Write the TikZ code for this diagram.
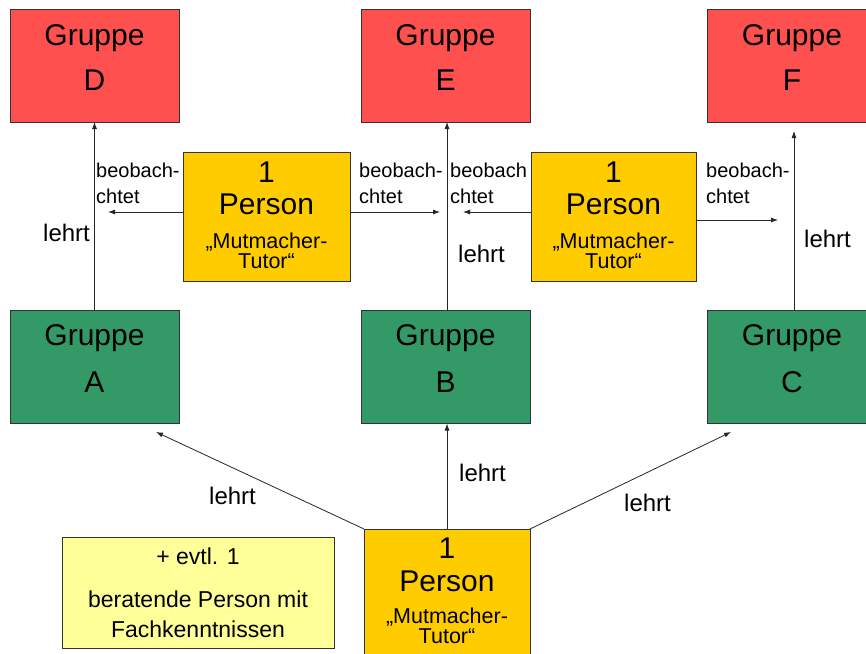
\documentclass[tikz,border=0pt]{standalone}
\usepackage{fontspec}
\setmainfont{Liberation Sans}
\usetikzlibrary{arrows.meta}
\definecolor{gred}{RGB}{255,80,80}
\definecolor{ggreen}{RGB}{51,153,102}
\definecolor{gyel}{RGB}{255,204,0}
\definecolor{glight}{RGB}{255,255,153}
\begin{document}
\begin{tikzpicture}[x=1pt,y=-1pt,
  box/.style={draw=black!80, line width=0.9pt, inner sep=0pt, outer sep=0pt},
  redbox/.style={box, fill=gred, minimum width=169pt, minimum height=113pt},
  greenbox/.style={box, fill=ggreen, minimum width=169pt, minimum height=113pt},
  tutorbox/.style={box, fill=gyel, minimum height=129pt},
  notebox/.style={box, fill=glight},
  big/.style={font=\fontsize{30}{30}\selectfont, anchor=base, inner sep=0pt},
  mid/.style={font=\fontsize{21.5}{21.5}\selectfont, anchor=base, inner sep=0pt},
  note/.style={font=\fontsize{23}{23}\selectfont, anchor=base, inner sep=0pt},
  lbl/.style={font=\fontsize{24}{24}\selectfont, anchor=base west, inner sep=0pt},
  obs/.style={font=\fontsize{20}{20}\selectfont, anchor=base west, inner sep=0pt},
  arr/.style={-{Latex[length=7pt,width=5pt]}, line width=0.8pt, black!85}
]
\clip (0,0) rectangle (866,653);
\fill[white] (0,0) rectangle (866,653);

% top row
\node[redbox] (D) at (94.5,65.5) {};
\node[redbox] (E) at (445.5,65.5) {};
\node[redbox] (F) at (791.5,65.5) {};
\node[big] (Dt1) at (94.5,45) {Gruppe};
\node[big] (Dt2) at (94.5,90) {D};
\node[big] (Et1) at (445.5,45) {Gruppe};
\node[big] (Et2) at (445.5,90) {E};
\node[big] (Ft1) at (792,45) {Gruppe};
\node[big] (Ft2) at (792,90) {F};

% middle row
\node[greenbox] (A) at (94.5,367) {};
\node[greenbox] (B) at (445.5,367) {};
\node[greenbox] (C) at (791.5,367) {};
\node[big] (At1) at (94.5,345) {Gruppe};
\node[big] (At2) at (94.5,392) {A};
\node[big] (Bt1) at (445.5,345) {Gruppe};
\node[big] (Bt2) at (445.5,392) {B};
\node[big] (Ct1) at (792,345) {Gruppe};
\node[big] (Ct2) at (792,392) {C};

% tutors
\node[tutorbox, minimum width=167pt] (P1) at (266.5,216.5) {};
\node[big] (P1a) at (266.5,182) {1};
\node[big] (P1b) at (266.5,214) {Person};
\node[mid] (P1c) at (266.5,248.5) {„Mutmacher-};
\node[mid] (P1d) at (266.5,268) {Tutor“};

\node[tutorbox, minimum width=165pt] (P2) at (613.5,216.5) {};
\node[big] (P2a) at (613.5,182) {1};
\node[big] (P2b) at (613.5,214) {Person};
\node[mid] (P2c) at (613.5,248.5) {„Mutmacher-};
\node[mid] (P2d) at (613.5,268) {Tutor“};

\node[tutorbox, minimum width=166pt, minimum height=140pt] (P3) at (447,599) {};
\node[big] (P3a) at (447,558) {1};
\node[big] (P3b) at (447,591) {Person};
\node[mid] (P3c) at (447,623.5) {„Mutmacher-};
\node[mid] (P3d) at (447,643) {Tutor“};

% note box
\node[notebox, minimum width=272pt, minimum height=111pt] (N) at (198,592.5) {};
\node[note] (N1) at (198,564) {+ evtl. 1};
\node[note] (N2) at (198,607) {beratende Person mit};
\node[note] (N3) at (198,637) {Fachkenntnissen};

% coordinates for free ends
\coordinate (L1end) at (108,212);
\coordinate (R1end) at (440,212);
\coordinate (L2end) at (463,212);
\coordinate (R2end) at (778,220);
\coordinate (tA) at (156,432);
\coordinate (tC) at (731,432);

% vertical arrows
\draw[arr] (A.north) -- (D.south);
\draw[arr] ([xshift=1.5pt]B.north) -- ([xshift=1.5pt]E.south);
\draw[arr] ([xshift=2.5pt]C.north) -- ([xshift=2.5pt,yshift=-9pt]F.south);

% observe arrows
\draw[arr] ([yshift=4.5pt]P1.west) -- (L1end);
\draw[arr] ([yshift=4.5pt]P1.east) -- (R1end);
\draw[arr] ([yshift=4.5pt]P2.west) -- (L2end);
\draw[arr] ([yshift=-3.5pt]P2.east) -- (R2end);

% bottom arrows
\draw[arr] (P3.north west) -- (tA);
\draw[arr] (P3.north) -- (P3.north |- B.south);
\draw[arr] (P3.north east) -- (tC);

% labels
\node[obs] (o1a) at (96,177) {beobach-};
\node[obs] (o1b) at (96,203) {chtet};
\node[obs] (o2a) at (359,177) {beobach-};
\node[obs] (o2b) at (359,203) {chtet};
\node[obs] (o3a) at (450,177) {beobach};
\node[obs] (o3b) at (450,203) {chtet};
\node[obs] (o4a) at (706,177) {beobach-};
\node[obs] (o4b) at (706,203) {chtet};

\node[lbl] (l1) at (43,241) {lehrt};
\node[lbl] (l2) at (458,262) {lehrt};
\node[lbl] (l3) at (804,247) {lehrt};
\node[lbl] (l4) at (209,504) {lehrt};
\node[lbl] (l5) at (459,481) {lehrt};
\node[lbl] (l6) at (624,511) {lehrt};
\end{tikzpicture}
\end{document}
